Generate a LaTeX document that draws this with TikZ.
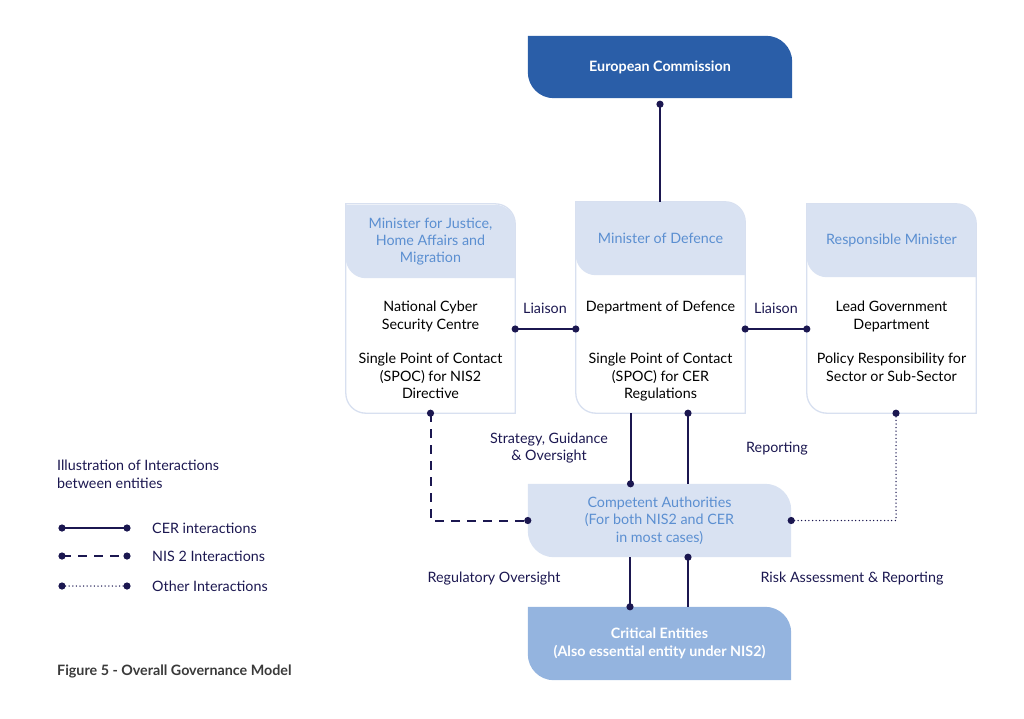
\documentclass[tikz,border=0pt]{standalone}
\usepackage{fontspec}
\setmainfont{Lato}
\usetikzlibrary{backgrounds}
\definecolor{navy}{HTML}{1B1750}
\definecolor{ecblue}{HTML}{2A5EA8}
\definecolor{pale}{HTML}{D9E2F2}
\definecolor{paleline}{HTML}{D8E0F0}
\definecolor{midblue}{HTML}{5B8FD1}
\definecolor{ceblue}{HTML}{94B4DF}
\definecolor{capgrey}{HTML}{3A3A3A}

% box with two round corners (top right, bottom left)
\newcommand{\leaf}[3]{
  \path[#3] (#1.north west) -- ([xshift=-#2]#1.north east)
    arc[start angle=90, end angle=0, radius=#2] -- (#1.south east)
    -- ([xshift=#2]#1.south west)
    arc[start angle=270, end angle=180, radius=#2] -- cycle;
}
\newcommand{\pin}[1]{\fill[navy] (#1) circle (3.6pt);}

\begin{document}
\begin{tikzpicture}[x=1pt, y=-1pt, font=\fontsize{14.3}{17.3}\selectfont,
    box/.style={inner sep=0pt, align=center},
    body/.style={inner sep=0pt, align=center, anchor=north},
    tag/.style={inner sep=0pt, align=center, text=navy},
    cer/.style={draw=navy, line width=2pt},
    nis/.style={draw=navy, line width=2pt, dash pattern=on 9pt off 7pt},
    other/.style={draw=navy, line width=1.5pt, line cap=round, dash pattern=on 0pt off 3.6pt}]
  \useasboundingbox (0,0) rectangle (1024,718);

  % top
  \node[box, minimum width=264pt, minimum height=62pt, text=white, font=\fontsize{14.3}{17.3}\selectfont\bfseries] (ec) at (660,67) {European Commission};

  % ministers
  \node[box, minimum width=169pt, minimum height=209pt] (lbox) at (430.5,308.5) {};
  \node[box, minimum width=169pt, minimum height=73pt, text=midblue] (lhead) at (430.5,241.5) {Minister for Justice,\\Home Affairs and\\Migration};
  \node[body] (lbody) at (430.5,301) {National Cyber\\Security Centre\\[17.5pt]Single Point of Contact\\(SPOC) for NIS2\\Directive};

  \node[box, minimum width=169pt, minimum height=211pt] (mbox) at (660.5,307.5) {};
  \node[box, minimum width=169pt, minimum height=73pt, text=midblue] (mhead) at (660.5,238.5) {Minister of Defence};
  \node[body] (mbody) at (660.5,301) {Department of Defence\\[34.8pt]Single Point of Contact\\(SPOC) for CER\\Regulations};

  \node[box, minimum width=169pt, minimum height=209pt] (rbox) at (891.5,308.5) {};
  \node[box, minimum width=169pt, minimum height=73pt, text=midblue] (rhead) at (891.5,240.5) {Responsible Minister};
  \node[body] (rbody) at (891.5,301) {Lead Government\\Department\\[17.5pt]Policy Responsibility for\\Sector or Sub-Sector};

  % authorities and entities
  \node[box, minimum width=263pt, minimum height=73pt, text=midblue] (comp) at (659.5,520.5) {Competent Authorities\\(For both NIS2 and CER\\in most cases)};
  \node[box, minimum width=263pt, minimum height=73pt, text=white, font=\fontsize{14.3}{17.3}\selectfont\bfseries] (crit) at (659.5,643.5) {Critical Entities\\(Also essential entity under NIS2)};

  \begin{pgfonlayer}{background}
    \leaf{ec}{26pt}{fill=ecblue}
    \leaf{lbox}{20pt}{fill=white, draw=paleline, line width=1.3pt}
    \leaf{lhead}{20pt}{fill=pale}
    \leaf{mbox}{20pt}{fill=white, draw=paleline, line width=1.3pt}
    \leaf{mhead}{20pt}{fill=pale}
    \leaf{rbox}{20pt}{fill=white, draw=paleline, line width=1.3pt}
    \leaf{rhead}{20pt}{fill=pale}
    \leaf{comp}{26pt}{fill=pale}
    \leaf{crit}{26pt}{fill=ceblue}
  \end{pgfonlayer}

  % connectors
  \draw[cer] ([yshift=-6pt]ec.south) -- (ec.south |- mhead.north);
  \pin{[yshift=-6pt]ec.south}

  \coordinate (liaison) at (0,329);
  \draw[cer] (lbox.east |- liaison) -- (mbox.west |- liaison);
  \pin{lbox.east |- liaison} \pin{mbox.west |- liaison}
  \draw[cer] (mbox.east |- liaison) -- (rbox.west |- liaison);
  \pin{mbox.east |- liaison} \pin{rbox.west |- liaison}
  \node[tag] (liaL) at (545,308) {Liaison};
  \node[tag] (liaR) at (776,308) {Liaison};

  \draw[cer] ([xshift=-30pt]mbox.south) -- ([xshift=-30pt]mbox.south |- comp.north);
  \pin{[xshift=-30pt]mbox.south |- comp.north}
  \draw[cer] ([xshift=27.5pt]mbox.south) -- ([xshift=27.5pt]mbox.south |- comp.north);
  \pin{[xshift=27.5pt]mbox.south}
  \node[tag] (strat) at (549,448) {Strategy, Guidance\\\& Oversight};
  \node[tag] (report) at (777,449) {Reporting};

  \draw[cer] ([xshift=-29.5pt]comp.south) -- ([xshift=-29.5pt]comp.south |- crit.north);
  \pin{[xshift=-29.5pt]comp.south |- crit.north}
  \draw[cer] ([xshift=28.5pt]comp.south) -- ([xshift=28.5pt]comp.south |- crit.north);
  \pin{[xshift=28.5pt]comp.south}
  \node[tag] (regov) at (494,579) {Regulatory Oversight};
  \node[tag] (risk) at (852,579) {Risk Assessment \& Reporting};

  \draw[nis] (lbox.south) |- (comp.west);
  \pin{lbox.south} \pin{comp.west}
  \draw[other] ([xshift=4.5pt]rbox.south) |- (comp.east);
  \pin{[xshift=4.5pt]rbox.south} \pin{comp.east}

  % legend
  \node[tag, anchor=north west, align=left] (legtitle) at (57,460) {Illustration of Interactions\\between entities};
  \node[tag, anchor=west] (legcer) at (152,528) {CER interactions};
  \node[tag, anchor=west] (legnis) at (152,556) {NIS 2 Interactions};
  \node[tag, anchor=west] (legother) at (152,586) {Other Interactions};
  \draw[cer] ([xshift=-90pt]legcer.west) -- ([xshift=-25pt]legcer.west);
  \pin{[xshift=-90pt]legcer.west} \pin{[xshift=-25pt]legcer.west}
  \draw[nis] ([xshift=-90pt]legnis.west) -- ([xshift=-25pt]legnis.west);
  \pin{[xshift=-90pt]legnis.west} \pin{[xshift=-25pt]legnis.west}
  \draw[other] ([xshift=-90pt]legother.west) -- ([xshift=-25pt]legother.west);
  \pin{[xshift=-90pt]legother.west} \pin{[xshift=-25pt]legother.west}

  \node[anchor=west, inner sep=0pt, text=capgrey, font=\fontsize{14.3}{17.3}\selectfont\bfseries] (caption) at (57,671) {Figure 5 - Overall Governance Model};
\end{tikzpicture}
\end{document}
